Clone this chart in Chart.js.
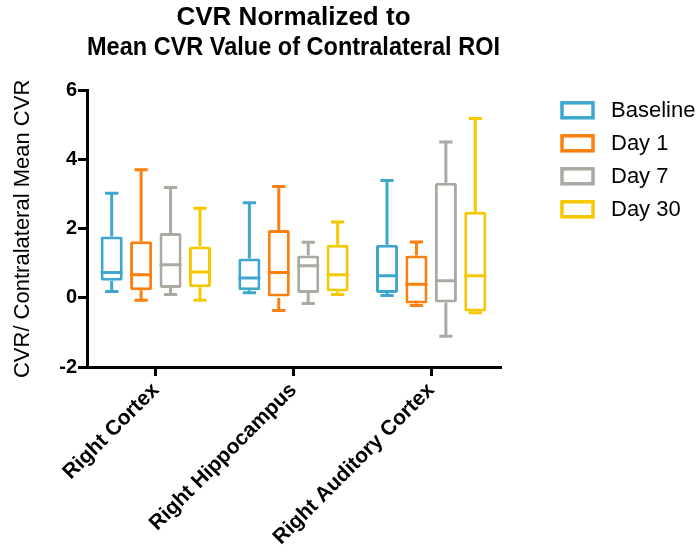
<!DOCTYPE html>
<html>
<head>
<meta charset="utf-8">
<script src="https://cdn.jsdelivr.net/npm/chart.js@4.4.0/dist/chart.umd.min.js"></script>
<style>
  body { margin: 0; background: #fff; }
</style>
</head>
<body>
<canvas id="cvrChart" width="699" height="550"></canvas>
<script>
const regions = ['Right Cortex', 'Right Hippocampus', 'Right Auditory Cortex'];
const groups = ['Baseline', 'Day 1', 'Day 7', 'Day 30'];
const colors = ['#3ea7cf', '#ff7f0e', '#a9aaa2', '#f6c800'];
const yTicks = [-2, 0, 2, 4, 6];

// [min, q1, median, q3, max] for each region
const baseline = [[0.19, 0.5, 0.74, 1.78, 3.03], [0.15, 0.22, 0.58, 1.14, 2.76], [0.07, 0.14, 0.64, 1.54, 3.4]];
const day1 = [[-0.07, 0.22, 0.67, 1.64, 3.71], [-0.36, 0.0, 0.74, 1.97, 3.23], [-0.22, -0.16, 0.4, 1.23, 1.62]];
const day7 = [[0.1, 0.29, 0.96, 1.88, 3.2], [-0.16, 0.14, 0.93, 1.23, 1.61], [-1.11, -0.13, 0.5, 3.34, 4.52]];
const day30 = [[-0.07, 0.31, 0.75, 1.49, 2.6], [0.1, 0.19, 0.67, 1.54, 2.2], [-0.43, -0.39, 0.64, 2.5, 5.2]];

const seriesStats = [baseline, day1, day7, day30];
const FONT = "'Liberation Sans', Arial, sans-serif";

// whiskers, caps and median lines on top of the floating bars
const boxWhiskers = {
  id: 'boxWhiskers',
  afterDatasetsDraw(chart) {
    const { ctx } = chart;
    const y = chart.scales.y;
    chart.data.datasets.forEach((ds, i) => {
      const meta = chart.getDatasetMeta(i);
      meta.data.forEach((bar, j) => {
        const [min, q1, med, q3, max] = ds.stats[j];
        const half = bar.width / 2;
        const cap = bar.width * 0.3;
        ctx.save();
        ctx.strokeStyle = ds.borderColor;
        ctx.lineWidth = 3;
        ctx.beginPath();
        ctx.moveTo(bar.x, y.getPixelForValue(q3));
        ctx.lineTo(bar.x, y.getPixelForValue(max));
        ctx.moveTo(bar.x - cap, y.getPixelForValue(max));
        ctx.lineTo(bar.x + cap, y.getPixelForValue(max));
        ctx.moveTo(bar.x, y.getPixelForValue(q1));
        ctx.lineTo(bar.x, y.getPixelForValue(min));
        ctx.moveTo(bar.x - cap, y.getPixelForValue(min));
        ctx.lineTo(bar.x + cap, y.getPixelForValue(min));
        ctx.moveTo(bar.x - half, y.getPixelForValue(med));
        ctx.lineTo(bar.x + half, y.getPixelForValue(med));
        ctx.stroke();
        ctx.restore();
      });
    });
  }
};

// legend to the right of the plot
const sideLegend = {
  id: 'sideLegend',
  afterDraw(chart) {
    const { ctx, chartArea } = chart;
    const left = chartArea.right + 62;
    const top = chartArea.top + 12;
    ctx.save();
    chart.data.datasets.forEach((ds, i) => {
      const rowY = top + i * 33;
      ctx.fillStyle = '#fff';
      ctx.strokeStyle = ds.borderColor;
      ctx.lineWidth = 3.5;
      ctx.fillRect(left, rowY, 31, 15);
      ctx.strokeRect(left, rowY, 31, 15);
      ctx.fillStyle = '#000';
      ctx.font = `22px ${FONT}`;
      ctx.textBaseline = 'middle';
      ctx.fillText(ds.label, left + 49, rowY + 8);
    });
    ctx.restore();
  }
};

const datasets = groups.map((name, i) => ({
  label: name,
  data: seriesStats[i].map((s) => [s[1], s[3]]),
  stats: seriesStats[i],
  backgroundColor: '#fff',
  borderColor: colors[i],
  borderWidth: 3,
  borderSkipped: false,
  borderRadius: 2,
  categoryPercentage: 0.855,
  barPercentage: 0.75
}));

new Chart(document.querySelector('#cvrChart'), {
  type: 'bar',
  data: { labels: regions, datasets },
  options: {
    responsive: false,
    animation: false,
    layout: { padding: { left: 10, right: 199 } },
    plugins: {
      legend: { display: false },
      tooltip: { enabled: false },
      title: {
        display: true,
        fullSize: false,
        text: ['CVR Normalized to', 'Mean CVR Value of Contralateral ROI'],
        color: '#000',
        font: { family: FONT, size: 26, weight: 'bold', lineHeight: 1.15 },
        padding: { top: 3, bottom: 28 }
      }
    },
    scales: {
      x: {
        afterFit: (scale) => { scale.height = 183; },
        border: { color: '#000', width: 3 },
        grid: { display: true, drawOnChartArea: false, offset: false, color: '#000', lineWidth: 3, tickLength: 9 },
        ticks: {
          color: '#000',
          font: { family: FONT, size: 21, weight: 'bold' },
          minRotation: 45,
          maxRotation: 45,
          padding: 2
        }
      },
      y: {
        min: -2,
        max: 6,
        afterFit: (scale) => { scale.width = 77; },
        afterBuildTicks: (scale) => { scale.ticks = yTicks.map((v) => ({ value: v })); },
        border: { color: '#000', width: 3 },
        grid: { display: true, drawOnChartArea: false, color: '#000', lineWidth: 3, tickLength: 9 },
        ticks: {
          color: '#000',
          font: { family: FONT, size: 20, weight: 'bold' },
          padding: 1
        },
        title: {
          display: true,
          text: 'CVR/ Contralateral Mean CVR',
          color: '#000',
          font: { family: FONT, size: 22 },
          padding: { top: 0, bottom: 2 }
        }
      }
    }
  },
  plugins: [boxWhiskers, sideLegend]
});
</script>
</body>
</html>
